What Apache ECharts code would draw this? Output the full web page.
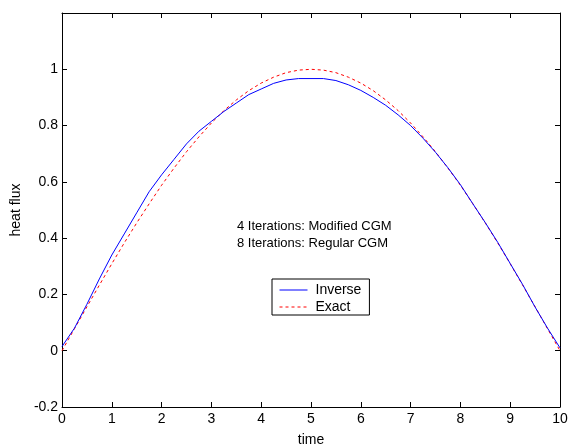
<!DOCTYPE html>
<html>
<head>
<meta charset="utf-8">
<script src="https://cdn.jsdelivr.net/npm/echarts@6/dist/echarts.min.js"></script>
<style>html,body{margin:0;padding:0;background:#fff;}#c{width:569px;height:447px;}</style>
</head>
<body>
<div id="c"></div>
<script>
var times = [0,0.25,0.5,0.75,1,1.25,1.5,1.75,2,2.25,2.5,2.75,3,3.25,3.5,3.75,4,4.25,4.5,4.75,5,5.25,5.5,5.75,6,6.25,6.5,6.75,7,7.25,7.5,7.75,8,8.25,8.5,8.75,9,9.25,9.5,9.75,10];
var inverseVals = [0.015,0.08,0.165,0.255,0.34,0.415,0.49,0.565,0.625,0.68,0.735,0.78,0.815,0.85,0.88,0.91,0.93,0.95,0.962,0.967,0.967,0.967,0.96,0.945,0.925,0.9,0.872,0.838,0.8,0.755,0.705,0.65,0.59,0.522,0.455,0.385,0.31,0.235,0.155,0.08,0.01];
var exactVals = [0,0.078,0.156,0.233,0.309,0.383,0.454,0.522,0.588,0.649,0.707,0.760,0.809,0.853,0.891,0.924,0.951,0.972,0.988,0.997,1.0,0.997,0.988,0.972,0.951,0.924,0.891,0.853,0.809,0.760,0.707,0.649,0.588,0.522,0.454,0.383,0.309,0.233,0.156,0.078,0];
var seriesNames = ['Inverse','Exact'];
var notes = ['4 Iterations: Modified CGM','8 Iterations: Regular CGM'];
var xLabel = 'time';
var yLabel = 'heat flux';

function pairs(xs, ys){ return xs.map(function(x,i){ return [x, ys[i]]; }); }
var FONT = 'Liberation Sans, Arial, sans-serif';
var chart = echarts.init(document.getElementById('c'), null, {renderer:'canvas'});
var tickStyle = {show:true, inside:true, length:5, lineStyle:{color:'#000', width:1}};
var lineAxis = {show:true, onZero:false, lineStyle:{color:'#000', width:1}};
chart.setOption({
  animation:false,
  backgroundColor:'#fff',
  grid:{left:62, top:13, right:9, bottom:40, show:false, containLabel:false, outerBoundsMode:'none'},
  xAxis:[{
    type:'value', min:0, max:10, interval:1, position:'bottom',
    name:xLabel, nameLocation:'middle', nameGap:26,
    nameTextStyle:{fontFamily:FONT, fontSize:14, color:'#000'},
    axisLine:lineAxis,
    axisTick:tickStyle,
    axisLabel:{fontFamily:FONT, fontSize:14, color:'#000', margin:5},
    splitLine:{show:false}
  },{
    type:'value', min:0, max:10, interval:1, position:'top',
    axisLine:lineAxis,
    axisTick:tickStyle, axisLabel:{show:false}, splitLine:{show:false}
  }],
  yAxis:[{
    type:'value', min:-0.2, max:1.2, interval:0.2, position:'left',
    name:yLabel, nameLocation:'middle', nameGap:37, nameRotate:90,
    nameTextStyle:{fontFamily:FONT, fontSize:14, color:'#000'},
    axisLine:lineAxis,
    axisTick:tickStyle,
    axisLabel:{fontFamily:FONT, fontSize:14, color:'#000', margin:4,
      formatter:function(v){ if (v > 1.1) return ''; return String(parseFloat(v.toFixed(1))); }},
    splitLine:{show:false}
  },{
    type:'value', min:-0.2, max:1.2, interval:0.2, position:'right',
    axisLine:lineAxis,
    axisTick:tickStyle, axisLabel:{show:false}, splitLine:{show:false}
  }],
  legend:{
    orient:'vertical', left:272, top:279,
    backgroundColor:'#fff', borderColor:'#000', borderWidth:1,
    padding:[4,8,1,7], itemGap:3, itemWidth:28, itemHeight:10,
    itemStyle:{opacity:0},
    lineStyle:{width:1},
    textStyle:{fontFamily:FONT, fontSize:14, color:'#000', padding:[0,0,0,3]},
    data:seriesNames
  },
  graphic:[
    {type:'text', left:237, top:220, style:{text:notes[0], font:'13px '+FONT, fill:'#000'}},
    {type:'text', left:237, top:237, style:{text:notes[1], font:'13px '+FONT, fill:'#000'}}
  ],
  series:[
    {name:seriesNames[0], type:'line', data:pairs(times, inverseVals), showSymbol:false, symbol:'none', smooth:false,
     lineStyle:{color:'#0000ff', width:1}, itemStyle:{color:'#0000ff'}, z:3},
    {name:seriesNames[1], type:'line', data:pairs(times, exactVals), showSymbol:false, symbol:'none', smooth:false,
     lineStyle:{color:'#ff0000', width:1, type:[3,3]}, itemStyle:{color:'#ff0000'}, z:2}
  ]
});
</script>
</body>
</html>
